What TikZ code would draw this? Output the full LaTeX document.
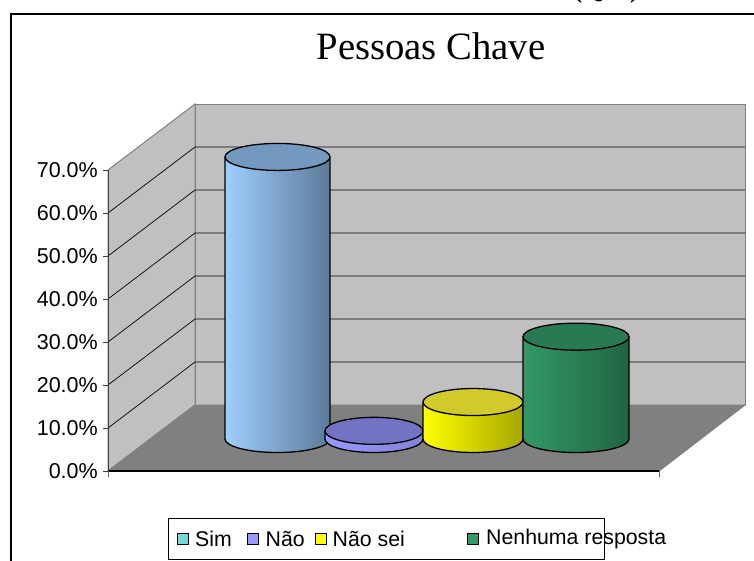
\documentclass[tikz,border=0pt]{standalone}
\usepackage{fontspec}
\setmainfont{Liberation Serif}
\setsansfont{Liberation Sans}
\usetikzlibrary{positioning}
\definecolor{wallgray}{HTML}{C0C0C0}
\definecolor{floorgray}{HTML}{808080}
\definecolor{simleg}{HTML}{73D9D9}
\definecolor{naoleg}{HTML}{9999FF}
\definecolor{seileg}{HTML}{FFFF00}
\definecolor{nenleg}{HTML}{339966}
\definecolor{simside}{HTML}{9FCFFF}
\definecolor{simdark}{HTML}{5C7A99}
\definecolor{simlid}{HTML}{7399C0}
\definecolor{naolid}{HTML}{7373C6}
\tikzset{
x=1pt, y=-1pt, % pixel-like units, y going down
wall/.style={fill=wallgray, draw=floorgray, line width=1pt}, % back and side walls
floor/.style={fill=floorgray, draw=floorgray, line width=1pt}, % the floor
grid line/.style={black, line width=0.7pt}, % value gridlines
barside/.style={draw=black, line width=1.3pt, line join=round}, % cylinder body
bartop/.style={draw=black, line width=1.3pt}, % cylinder lid
axis label/.style={font=\sffamily\fontsize{21.5}{21.5}\selectfont, anchor=east, inner sep=0pt},
legmark/.style={draw=black, line width=1pt, minimum size=11pt, inner sep=0pt},
legtext/.style={font=\sffamily\fontsize{21.3}{21.3}\selectfont, inner sep=0pt, anchor=west},
}
% one cylinder: name, centre x, radius, value (%), side left, side right, lid
\newcommand{\cylbar}[7]{%
  \pgfmathsetmacro\cyltop{439-4.3*#4}
  \path[barside, left color=#5, right color=#6] (#2-#3,\cyltop) -- (#2-#3,439)
    arc[start angle=180, end angle=0, x radius=#3, y radius=13.5] -- (#2+#3,\cyltop) -- cycle;
  \path[bartop, fill=#7] (#2,\cyltop) ellipse[x radius=#3, y radius=13.5];
  \coordinate (#1) at (#2,\cyltop);
}

\begin{document}
\begin{tikzpicture}
\useasboundingbox (0,0) rectangle (754,560);
\node[font=\bfseries\fontsize{27}{27}\selectfont, anchor=base] (qref) at (606,-3) {(Q19)};
\draw[line width=1.3pt] (11,580) -- (11,14) -- (780,14);
\node[font=\fontsize{38.7}{38.7}\selectfont, anchor=base] (title) at (431,59) {Pessoas Chave};

% walls and floor
\path[wall] (195,104) rectangle (745,405);
\path[wall] (108,471) -- (108,170) -- (195,104) -- (195,405) -- cycle;
\path[floor] (108,471) -- (195,405) -- (745,405) -- (659,471) -- cycle;
\foreach \v in {10,20,...,60} {
  \draw[grid line] (108,471-4.3*\v) -- (195,405-4.3*\v) -- (745,405-4.3*\v);
}
\draw[black!75, line width=1pt] (108,170) -- (108,471);
\draw[black, line width=1.3pt] (108,471) -- (659,471);
\foreach \v in {0,10,...,70} {
  \draw[black!75, line width=1pt] (103,471-4.3*\v) -- (108,471-4.3*\v);
  \node[axis label] (lbl\v) at (98,471-4.3*\v) {\v.0\%};
}
\draw[black!60, line width=1pt] (108,471) -- (108,477);
\draw[black!60, line width=1pt] (659,471) -- (659,477);

% bars
\cylbar{sim}{277.5}{52.5}{65.6}{simside}{simdark}{simlid}
\cylbar{nao}{374}{49}{1.9}{naoleg}{naoleg!85!black}{naolid}
\cylbar{naosei}{473}{50}{8.6}{yellow}{yellow!65!black}{yellow!80!black}
\cylbar{nenhuma}{576}{53}{23.8}{nenleg}{nenleg!65!black}{nenleg!80!black}

% legend
\draw[line width=1pt] (168,518) rectangle (604,559.5);
\node[legmark, fill=simleg] (msim) at (183,539) {};
\node[legtext, right=6pt of msim] (tsim) {Sim};
\node[legmark, fill=naoleg] (mnao) at (252.5,539) {};
\node[legtext, right=7pt of mnao] (tnao) {Não};
\node[legmark, fill=seileg] (msei) at (320.5,539) {};
\node[legtext, right=6pt of msei] (tsei) {Não sei};
\node[legmark, fill=nenleg] (mnen) at (473,539) {};
\node[legtext, right=7pt of mnen] (tnen) {Nenhuma resposta};
\end{tikzpicture}
\end{document}
